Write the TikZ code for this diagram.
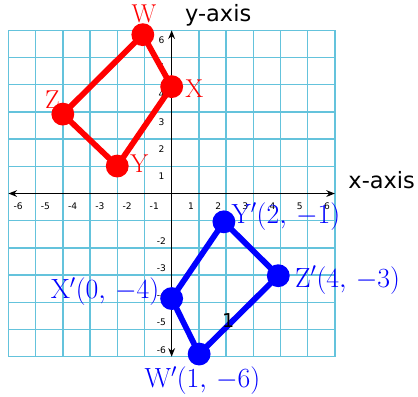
\documentclass[tikz,border=0pt]{standalone}
\usepackage{fix-cm}
\usepackage{fontspec}
\newfontfamily\axisfont{DejaVu Sans}
\usetikzlibrary{arrows.meta}

\definecolor{gridblue}{RGB}{100,195,220}
\definecolor{ptred}{RGB}{255,0,0}
\definecolor{ptblue}{RGB}{0,0,255}

\begin{document}
\begin{tikzpicture}[
    gridline/.style={draw=gridblue, line width=1.4pt},
    axis/.style={line width=1.6pt, {Stealth[length=9pt,width=7pt]}-{Stealth[length=9pt,width=7pt]}},
    tick/.style={font=\axisfont\fontsize{9.5}{10}\selectfont, inner sep=0pt},
    axislabel/.style={font=\axisfont\fontsize{23.5}{26}\selectfont, inner sep=0pt},
    redline/.style={draw=ptred, line width=6pt, line join=round},
    blueline/.style={draw=ptblue, line width=6pt, line join=round},
    redpt/.style={circle, fill=ptred, minimum size=0.84cm, inner sep=0pt},
    bluept/.style={circle, fill=ptblue, minimum size=0.84cm, inner sep=0pt},
    redlabel/.style={text=ptred, font=\fontsize{27}{30}\selectfont, inner sep=0pt},
    bluelabel/.style={text=ptblue, font=\fontsize{29}{31}\selectfont, inner sep=0pt}
]
    \useasboundingbox (-6.31,-7.445) rectangle (9.055,7.114);

    % Grid
    \draw[gridline] (-6,-6) grid (6,6);

    % Axes
    \coordinate (xleft) at (-6,0);
    \coordinate (xright) at (6,0);
    \coordinate (ybottom) at (0,-6);
    \coordinate (ytop) at (0,6);
    \draw[axis] (xleft) -- (xright);
    \draw[axis] (ybottom) -- (ytop);

    % Tick labels
    \foreach \n in {1,...,6} {
        \node[tick] (xpos\n) at (\n-0.29,-0.45) {\n};
        \node[tick] (xneg\n) at (-\n+0.36,-0.45) {-\n};
        \node[tick] (ypos\n) at (-0.37,\n-0.36) {\n};
    }
    \foreach \n in {2,...,6}
        \node[tick] (yneg\n) at (-0.38,-\n+0.26) {-\n};

    % Axis names
    \node[axislabel] (ylab) at (1.71,6.56) {y-axis};
    \node[axislabel] (xlab) at (7.72,0.5) {x-axis};

    % Original figure
    \coordinate (W) at (-1.06,5.84);
    \coordinate (X) at (0,3.93);
    \coordinate (Y) at (-2,1.01);
    \coordinate (Z) at (-4,2.92);
    \draw[redline] (W) -- (X) -- (Y) -- (Z) -- cycle;
    \node[redpt] (Wdot) at (W) {};
    \node[redpt] (Xdot) at (X) {};
    \node[redpt] (Ydot) at (Y) {};
    \node[redpt] (Zdot) at (Z) {};

    % Image figure
    \coordinate (Wp) at (1.01,-5.9);
    \coordinate (Xp) at (0,-3.86);
    \coordinate (Yp) at (1.92,-1.04);
    \coordinate (Zp) at (3.92,-3.02);
    \draw[blueline] (Yp) -- (Zp) -- (Wp) -- (Xp) -- cycle;
    \node[bluept] (Wpdot) at (Wp) {};
    \node[bluept] (Xpdot) at (Xp) {};
    \node[bluept] (Ypdot) at (Yp) {};
    \node[bluept] (Zpdot) at (Zp) {};

    % Labels
    \node[redlabel] (Wlab) at (-1.02,6.62) {W};
    \node[redlabel] (Xlab) at (0.83,3.87) {X};
    \node[redlabel] (Ylab) at (-1.19,1.08) {Y};
    \node[redlabel] (Zlab) at (-4.38,3.44) {Z};
    \node[bluelabel, anchor=west] (Yplab) at (2.2,-0.85) {$\mathrm{Y}'(2,\,-1)$};
    \node[bluelabel, anchor=west] (Zplab) at (4.53,-3.18) {$\mathrm{Z}'(4,\,-3)$};
    \node[bluelabel, anchor=east] (Xplab) at (-0.45,-3.6) {$\mathrm{X}'(0,\,-4)$};
    \node[bluelabel] (Wplab) at (1.13,-6.86) {$\mathrm{W}'(1,\,-6)$};

    \node[font=\axisfont\fontsize{20}{24}\selectfont, inner sep=0pt] (side) at (2.08,-4.68) {1};
\end{tikzpicture}
\end{document}
